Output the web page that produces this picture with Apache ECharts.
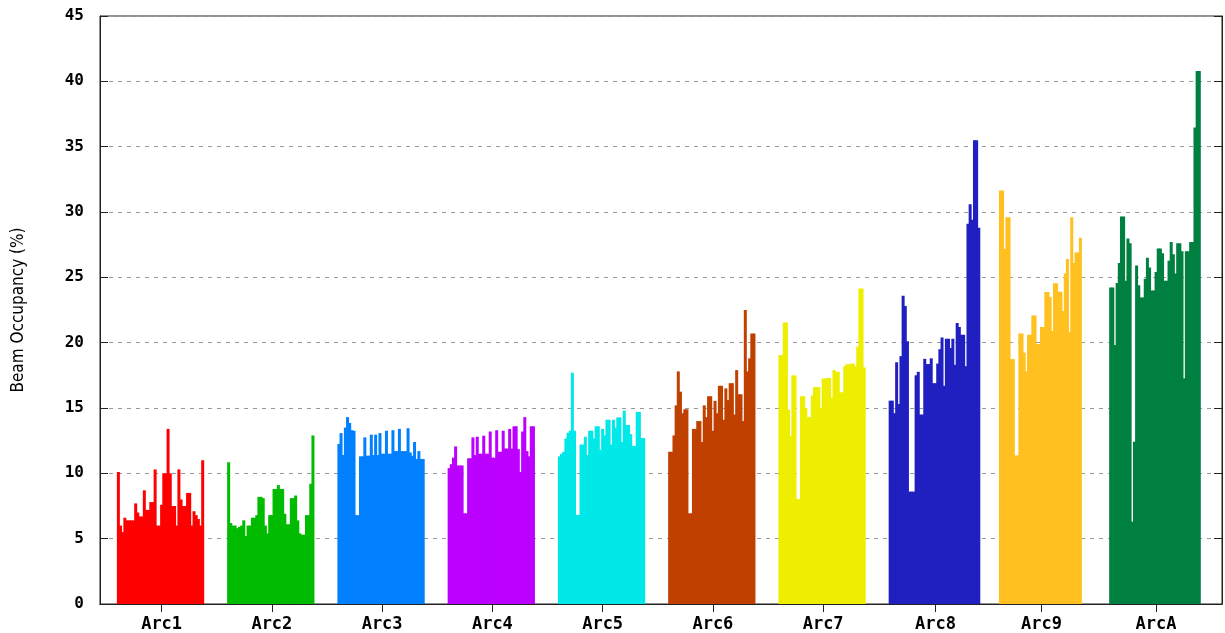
<!DOCTYPE html>
<html><head><meta charset="utf-8">
<script src="https://cdn.jsdelivr.net/npm/echarts@6/dist/echarts.min.js"></script>
<style>html,body{margin:0;padding:0;background:#fff}#c{width:1225px;height:633px}</style>
</head><body><div id="c"></div><script>
const arcNames = ['Arc1','Arc2','Arc3','Arc4','Arc5','Arc6','Arc7','Arc8','Arc9','ArcA'];
const yTickValues = [0,5,10,15,20,25,30,35,40,45];
const arc1 = [10.1,6.0,5.5,6.6,6.4,6.4,6.4,6.4,7.7,7.0,6.7,6.7,8.7,7.2,7.2,7.8,7.8,10.3,6.0,6.0,7.6,10.0,10.0,13.4,10.0,7.5,7.5,6.0,10.3,8.0,7.5,7.5,8.5,8.5,6.0,7.1,6.8,6.5,6.0,11.0];
const arc2 = [10.85,6.2,6.0,6.0,5.8,5.9,6.0,6.4,5.2,6.0,6.0,6.6,6.6,6.8,8.2,8.2,8.1,6.0,5.4,6.8,6.8,8.8,8.8,9.1,8.8,8.8,6.9,6.1,6.1,8.1,8.1,8.3,6.4,5.4,5.3,5.3,6.8,6.8,9.2,12.9];
const arc3 = [12.25,13.08,11.4,13.5,14.3,13.85,13.3,13.26,6.8,6.8,11.3,11.3,12.75,11.35,11.35,12.96,11.4,12.96,11.4,13.08,11.5,11.5,13.26,11.5,11.5,13.3,11.7,11.7,13.4,11.7,11.7,11.7,13.45,11.6,11.35,12.4,11.1,11.7,11.1,11.1];
const arc4 = [10.4,10.7,11.2,12.06,10.6,10.6,10.6,6.94,6.94,11.15,11.15,12.75,11.4,12.8,11.5,11.5,12.88,11.5,11.5,13.2,11.2,11.2,13.3,11.65,11.65,13.26,11.9,11.9,13.4,11.9,13.6,13.6,11.85,10.1,13.2,14.3,11.7,11.3,13.6,13.6];
const arc5 = [11.3,11.5,11.65,12.67,13.1,13.26,17.7,13.26,6.81,6.81,12.2,12.2,12.8,11.4,13.26,13.26,12.67,13.6,13.6,11.8,13.4,12.9,14.1,14.1,12.2,14.1,13.5,14.28,14.28,12.4,14.8,13.7,13.7,13.0,12.1,12.1,14.7,14.7,12.7,12.7];
const arc6 = [11.65,11.65,12.9,15.2,17.8,16.25,14.6,14.9,14.9,6.94,6.94,13.4,13.4,14.0,14.0,12.4,15.2,14.3,15.9,15.9,13.26,15.55,14.6,16.7,16.7,14.1,16.5,15.6,16.9,16.9,14.5,17.9,16.05,16.05,14.0,22.5,17.8,18.8,20.7,20.7];
const arc7 = [19.05,19.05,21.55,21.55,14.87,12.87,17.5,17.5,8.03,8.03,15.9,15.9,14.98,14.3,14.3,15.95,16.6,16.6,16.6,15.0,17.26,17.26,17.3,17.3,15.8,17.9,17.77,17.77,16.2,16.2,18.2,18.35,18.35,18.4,18.4,18.2,19.7,24.15,24.15,18.1];
const arc8 = [15.56,15.56,14.6,18.5,15.3,18.97,23.6,22.8,20.1,8.6,8.6,8.6,17.5,17.77,14.5,14.5,18.76,18.36,18.36,18.8,16.9,16.9,18.4,19.5,20.4,16.7,20.3,20.3,19.6,20.3,18.3,21.5,21.2,20.6,20.6,18.2,29.1,30.6,29.4,35.5,35.5,28.8];
const arc9 = [31.64,31.64,27.16,29.6,29.6,18.74,18.74,11.37,11.37,20.7,20.7,19.24,17.8,20.6,20.6,22.08,22.08,19.9,19.9,21.2,21.2,23.88,23.88,23.5,20.9,24.54,24.54,23.9,23.9,22.43,25.3,26.4,20.8,29.6,26.1,26.9,26.9,28.03];
const arcA = [24.23,24.23,19.82,24.56,26.09,29.66,29.66,24.74,27.98,27.6,6.3,12.42,25.9,24.4,23.46,23.46,24.9,26.5,25.76,24.0,24.0,25.4,27.2,27.2,26.85,24.74,24.74,26.27,27.7,26.77,25.3,27.6,27.6,27.0,17.27,27.0,27.0,27.7,27.7,36.47,40.8,40.8];
const arcValues = [arc1,arc2,arc3,arc4,arc5,arc6,arc7,arc8,arc9,arcA];
const arcColors = ['#ff0000','#00bb00','#0080ff','#bb00ff','#00e8e8','#c04000','#eeee00','#2020c0','#ffc020','#008040'];

// slot layout on the category axis
const SLOTS = 519, FIRST = 8, PITCH = 51;
const catNames = [], labelMap = {}, data = [];
for (let i = 0; i < SLOTS; i++) { catNames.push('s' + i); data.push('-'); }
arcValues.forEach((vals, g) => {
  const start = FIRST + g * PITCH;
  vals.forEach((v, j) => {
    data[start + j] = { value: v, itemStyle: { color: arcColors[g] } };
  });
  const c = start + Math.floor(vals.length / 2);
  labelMap[catNames[c]] = arcNames[g];
});
const isCenter = (i, v) => labelMap[catNames[i]] !== undefined;

const yFont = { fontFamily: 'DejaVu Sans Mono', fontWeight: 'bold', fontSize: 16, color: '#000' };
const xFont = { fontFamily: 'DejaVu Sans Mono', fontWeight: 'bold', fontSize: 17, color: '#000' };

const chart = echarts.init(document.getElementById('c'), null, { renderer: 'canvas' });
chart.setOption({
  animation: false,
  backgroundColor: '#fff',
  grid: { left: 100, right: 3, top: 16, bottom: 28, show: true, borderColor: '#222', borderWidth: 1, containLabel: false },
  xAxis: [
    { type: 'category', data: catNames, position: 'bottom',
      axisLine: { lineStyle: { color: '#222' } },
      axisTick: { show: false },
      axisLabel: Object.assign({ interval: isCenter, formatter: v => labelMap[v] || '', margin: 12 }, xFont),
      splitLine: { show: false } },
    { type: 'category', data: catNames, position: 'top',
      axisLine: { lineStyle: { color: '#222' } },
      axisTick: { show: true, inside: true, length: 8, interval: isCenter, alignWithLabel: true, lineStyle: { color: '#222' } },
      axisLabel: { show: false }, splitLine: { show: false } }
  ],
  yAxis: [
    { type: 'value', min: 0, max: 45, interval: 5,
      name: 'Beam Occupancy (%)', nameLocation: 'middle', nameRotate: 90, nameGap: 73,
      nameTextStyle: { fontFamily: 'DejaVu Sans Condensed', fontSize: 17, color: '#000' },
      axisLine: { show: true, lineStyle: { color: '#222' } },
      axisTick: { show: true, inside: true, length: 8, lineStyle: { color: '#222' } },
      axisLabel: Object.assign({ margin: 16, formatter: v => yTickValues.includes(v) ? String(v) : '' }, yFont),
      splitLine: { show: true, lineStyle: { color: '#999', type: [4, 5], width: 1 } } },
    { type: 'value', min: 0, max: 45, interval: 5, position: 'right',
      axisLine: { show: true, lineStyle: { color: '#222' } },
      axisTick: { show: true, inside: true, length: 8, lineStyle: { color: '#222' } },
      axisLabel: { show: false }, splitLine: { show: false } }
  ],
  series: [{
    type: 'bar', xAxisIndex: 0, yAxisIndex: 0,
    barWidth: 3, barGap: '-100%',
    data: data
  }]
});
</script></body></html>
